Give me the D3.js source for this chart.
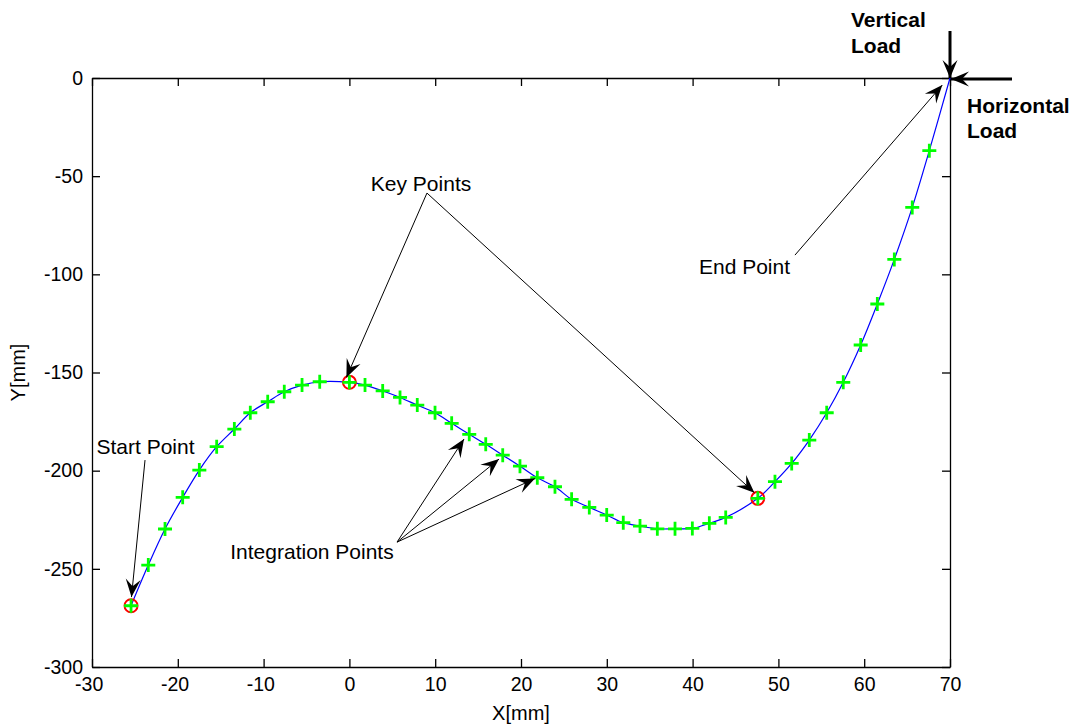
<!DOCTYPE html>
<html>
<head>
<meta charset="utf-8">
<title>Integration Points</title>
<script src="https://d3js.org/d3.v7.min.js"></script>
<style>
  body { margin: 0; background: #fff; }
  text { font-family: Arial, "Liberation Sans", sans-serif; }
</style>
</head>
<body>
<svg id="chart" width="1077" height="727"></svg>
<script>
// integration points (green +)
var intX = [-23.44, -21.49, -19.43, -17.49, -15.47, -13.41, -11.55, -9.52, -7.59, -5.52, -3.46,
            1.82, 3.88, 5.9, 7.91, 9.98, 11.92, 13.97, 15.89, 17.87, 19.88, 21.9, 23.96,
            25.9, 27.96, 29.99, 31.92, 33.87, 35.89, 37.95, 39.97, 41.95, 43.86,
            49.6, 51.55, 53.6, 55.63, 57.56, 59.59, 61.53, 63.51, 65.6, 67.59];
var intY = [-248.1, -229.7, -213.6, -199.7, -187.8, -178.8, -170.5, -164.9, -159.8, -156.4, -154.7,
            -156.4, -159.4, -162.7, -166.6, -170.5, -175.9, -181.5, -186.6, -192.1, -197.7, -203.6, -208.2,
            -214.6, -218.7, -222.6, -226.5, -228.2, -229.6, -229.6, -229.4, -226.8, -223.8,
            -205.6, -196.3, -184.4, -170.5, -155.0, -136.0, -115.1, -92.4, -65.9, -37.0];
// start point + key points (red o)
var keyX = [-25.45, 0, 47.6];
var keyY = [-268.8, -155.0, -214.1];
// end point (load applied here)
var endX = 70, endY = 0;

var xTicks = [-30, -20, -10, 0, 10, 20, 30, 40, 50, 60, 70];
var yTicks = [-300, -250, -200, -150, -100, -50, 0];

var svg = d3.select("#chart");
var pLeft = 92, pRight = 950, pTop = 78, pBottom = 667;

var x = d3.scaleLinear().domain([-30, 70]).range([pLeft, pRight]);
var y = d3.scaleLinear().domain([-300, 0]).range([pBottom, pTop]);

// axes box, ticks inside like matlab
var fmt = function(d) { return String(d); };
var gx = svg.append("g").attr("transform", "translate(0," + pBottom + ")")
  .call(d3.axisBottom(x).tickValues(xTicks).tickFormat(fmt).tickSizeInner(-8).tickSizeOuter(0).tickPadding(10));
gx.selectAll("text").attr("dx", function(d) { return d < 0 ? "-0.17em" : 0; });
svg.append("g").attr("transform", "translate(" + pLeft + ",0)")
  .call(d3.axisLeft(y).tickValues(yTicks).tickFormat(fmt).tickSizeInner(-8).tickSizeOuter(0).tickPadding(9));
svg.append("g").attr("transform", "translate(0," + pTop + ")")
  .call(d3.axisTop(x).tickValues(xTicks).tickFormat("").tickSizeInner(-8).tickSizeOuter(0));
svg.append("g").attr("transform", "translate(" + pRight + ",0)")
  .call(d3.axisRight(y).tickValues(yTicks).tickFormat("").tickSizeInner(-8).tickSizeOuter(0));
svg.selectAll(".domain, .tick line").attr("stroke", "#000").attr("stroke-width", 1.3);
svg.selectAll(".tick text").attr("fill", "#000").style("font-size", "19.5px");

// axis labels
svg.append("text").attr("x", (pLeft + pRight) / 2).attr("y", 720)
  .attr("text-anchor", "middle").style("font-size", "20px").text("X[mm]");
svg.append("text").attr("transform", "translate(25," + (pTop + pBottom) / 2 + ")rotate(-90)")
  .attr("text-anchor", "middle").style("font-size", "20px").text("Y[mm]");

// curve through all points
var pts = [];
keyX.forEach(function(v, i) { pts.push([v, keyY[i]]); });
intX.forEach(function(v, i) { pts.push([v, intY[i]]); });
pts.push([endX, endY]);
pts.sort(function(a, b) { return a[0] - b[0]; });

svg.append("path").datum(pts)
  .attr("fill", "none").attr("stroke", "#0000ff").attr("stroke-width", 1.2)
  .attr("d", d3.line().x(function(d) { return x(d[0]); }).y(function(d) { return y(d[1]); })
    .curve(d3.curveCatmullRom));

// red circles on key points
svg.append("g").selectAll("circle").data(keyX).join("circle")
  .attr("cx", function(d) { return x(d); })
  .attr("cy", function(d, i) { return y(keyY[i]); })
  .attr("r", 6.5).attr("fill", "none").attr("stroke", "#ff0000").attr("stroke-width", 2);

// green + on every point (key points too)
var plusX = keyX.concat(intX), plusY = keyY.concat(intY);
svg.append("g").selectAll("path").data(plusX).join("path")
  .attr("transform", function(d, i) { return "translate(" + x(d) + "," + y(plusY[i]) + ")"; })
  .attr("d", "M-7,0H7M0,-7V7")
  .attr("stroke", "#00ff00").attr("stroke-width", 2.8);

// arrows
function arrow(x1, y1, x2, y2, w) {
  var a = Math.atan2(y2 - y1, x2 - x1) * 180 / Math.PI;
  svg.append("line").attr("x1", x1).attr("y1", y1).attr("x2", x2).attr("y2", y2)
    .attr("stroke", "#000").attr("stroke-width", w);
  svg.append("path").attr("transform", "translate(" + x2 + "," + y2 + ")rotate(" + a + ")")
    .attr("d", "M0,0L-18,-7.5L-11,0L-18,7.5Z").attr("fill", "#000");
}

// annotation arrows in data units [fromX, fromY, toX, toY]
var notes = [
  [9.04, -58.6, -0.35, -152.5],
  [9.04, -58.6, 47.2, -211.2],
  [51.93, -90.2, 69.1, -3.6],
  [-23.82, -194.6, -25.4, -264.4],
  [5.55, -236.4, 13.36, -183.9],
  [5.55, -236.4, 17.44, -194.1],
  [5.55, -236.4, 21.63, -204.0]
];
notes.forEach(function(n) { arrow(x(n[0]), y(n[1]), x(n[2]), y(n[3]), 1); });

var labels = [
  ["Key Points", 8.35, -57.5],
  ["End Point", 46.05, -100],
  ["Start Point", -23.76, -191.5],
  ["Integration Points", -4.36, -245]
];
svg.append("g").selectAll("text").data(labels).join("text")
  .attr("x", function(d) { return x(d[1]); })
  .attr("y", function(d) { return y(d[2]); })
  .attr("text-anchor", "middle").style("font-size", "21px")
  .text(function(d) { return d[0]; });

// loads at the end point
var ex = x(endX), ey = y(endY);
arrow(ex, ey - 47, ex, ey, 3);
arrow(ex + 62, ey + 1, ex + 1, ey + 1, 3);

var bold = svg.append("g").style("font-size", "21px").style("font-weight", "bold");
bold.append("text").attr("x", 851).attr("y", 27).text("Vertical");
bold.append("text").attr("x", 851).attr("y", 53).text("Load");
bold.append("text").attr("x", 967).attr("y", 113).text("Horizontal");
bold.append("text").attr("x", 967).attr("y", 138).text("Load");
</script>
</body>
</html>
